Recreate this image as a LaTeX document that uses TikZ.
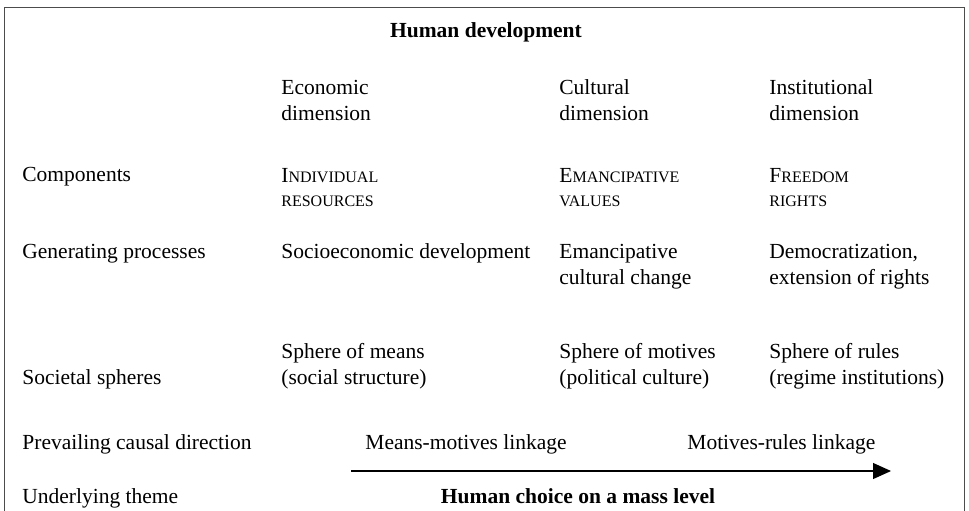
\documentclass[tikz,border=0pt]{standalone}
\usepackage{fontspec}
\setmainfont{Liberation Serif}
\usetikzlibrary{arrows.meta}
\newcommand{\fsc}[1]{{\fontsize{8pt}{12pt}\selectfont #1}}
\tikzset{
    cell/.style={anchor=base west, inner sep=0pt, align=left, font=\fontsize{10.75pt}{13pt}\selectfont},
    head/.style={anchor=base, inner sep=0pt, font=\fontsize{10.75pt}{13pt}\selectfont\bfseries}
}
\begin{document}
\begin{tikzpicture}[x=0.5pt, y=-0.5pt]
    \useasboundingbox (0,0) rectangle (969,510);
    \draw[black!70, line width=0.5pt] (4,515) -- (4,7) -- (964,7) -- (964,515);

    \node[head] (hd) at (486,37) {Human development};

    \node[cell] (econ) at (281,120) {Economic\\dimension};
    \node[cell] (cult) at (559,120) {Cultural\\dimension};
    \node[cell] (inst) at (769,120) {Institutional\\dimension};

    \node[cell] (comp) at (22,181) {Components};
    \node[cell] (indres) at (281,206) {I\fsc{NDIVIDUAL}\\[-1pt]\fsc{RESOURCES}};
    \node[cell] (emval) at (559,206) {E\fsc{MANCIPATIVE}\\[-1pt]\fsc{VALUES}};
    \node[cell] (frrig) at (769,206) {F\fsc{REEDOM}\\[-1pt]\fsc{RIGHTS}};

    \node[cell] (gen) at (22,258) {Generating processes};
    \node[cell] (socdev) at (281,258) {Socioeconomic development};
    \node[cell] (emchg) at (559,284) {Emancipative\\cultural change};
    \node[cell] (democ) at (769,284) {Democratization,\\extension of rights};

    \node[cell] (soc) at (22,384) {Societal spheres};
    \node[cell] (means) at (281,384) {Sphere of means\\(social structure)};
    \node[cell] (motiv) at (559,384) {Sphere of motives\\(political culture)};
    \node[cell] (rules) at (769,384) {Sphere of rules\\(regime institutions)};

    \node[cell] (prev) at (22,449) {Prevailing causal direction};
    \node[cell] (mmlink) at (365,449) {Means-motives linkage};
    \node[cell] (mrlink) at (687,449) {Motives-rules linkage};

    \coordinate (arrs) at (351,471);
    \coordinate (arre) at (891,471);
    \draw[line width=0.6pt, -{Triangle[length=9pt, width=8pt]}] (arrs) -- (arre);

    \node[cell] (under) at (22,503) {Underlying theme};
    \node[head] (choice) at (578,503) {Human choice on a mass level};
\end{tikzpicture}
\end{document}
